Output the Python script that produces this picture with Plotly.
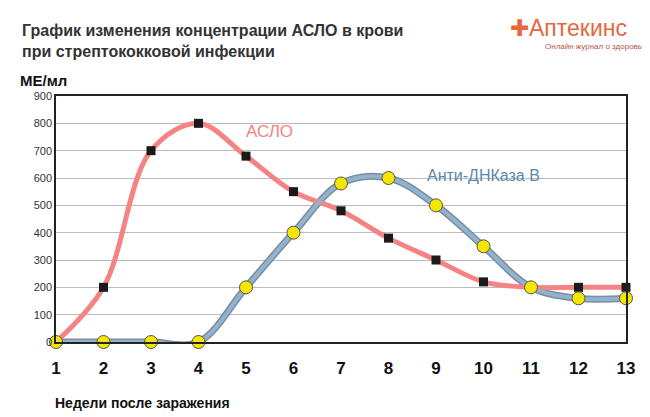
import plotly.graph_objects as go

weeks = list(range(1, 14))
aslo = [0, 200, 700, 800, 680, 550, 480, 380, 300, 220, 200, 200, 200]
dnase = [0, 0, 0, 0, 200, 400, 580, 600, 500, 350, 200, 160, 160]

L, R, T, B = 48, 32, 88, 83

fig = go.Figure()
# grey outline under the blue line
fig.add_trace(go.Scatter(x=weeks, y=dnase, mode='lines', line=dict(color='#7f8c99', width=7, shape='spline', smoothing=1.0),
                         hoverinfo='skip', cliponaxis=False))
fig.add_trace(go.Scatter(x=weeks, y=aslo, mode='lines+markers', name='АСЛО',
                         line=dict(color='#f58383', width=5, shape='spline', smoothing=1.0),
                         marker=dict(symbol='square', size=9, color='#1a1a1a'), cliponaxis=False))
fig.add_trace(go.Scatter(x=weeks, y=dnase, mode='lines+markers', name='Анти-ДНКаза В',
                         line=dict(color='#8fb4d2', width=4, shape='spline', smoothing=1.0),
                         marker=dict(symbol='circle', size=13, color='#f5e600', line=dict(color='#555', width=1)),
                         cliponaxis=False))

fig.update_layout(
    width=650, height=417, showlegend=False,
    paper_bgcolor='white', plot_bgcolor='white',
    margin=dict(l=L, r=R, t=T, b=B, autoexpand=False),
    font=dict(family='Liberation Sans, Arial', color='#222'),
    xaxis=dict(range=[1, 13], tickvals=weeks, ticktext=['<b>%d</b>' % w for w in weeks],
               showgrid=False, zeroline=False,
               showline=True, linecolor='#222', mirror=True, linewidth=1.5,
               tickfont=dict(size=17, color='#111'), ticks='', ticklabelstandoff=10),
    yaxis=dict(range=[0, 900], dtick=100, showgrid=True, gridcolor='#bbbbbb', zeroline=False,
               showline=True, linecolor='#222', mirror=True, linewidth=1.5,
               tickfont=dict(size=11, color='#333'), ticks=''),
    annotations=[
        dict(text='<b>График изменения концентрации АСЛО в крови<br>при стрептококковой инфекции</b>',
             x=12, y=33, showarrow=False, align='left',
             xanchor='left', yanchor='middle', font=dict(size=16, color='#333')),
        dict(text='<b>МЕ/мл</b>', x=10, y=73, xanchor='left', yanchor='middle', showarrow=False,
             font=dict(size=15, color='#111')),
        dict(text='<b>Недели после заражения</b>', x=45, y=395, xanchor='left', yanchor='middle',
             showarrow=False, font=dict(size=14, color='#111')),
        dict(text='✚Аптекинс', x=500, y=20, xanchor='left', yanchor='middle', showarrow=False,
             font=dict(size=23, color='#e8663d', family='Liberation Sans, Arial')),
        dict(text='Онлайн журнал о здоровье', x=535, y=39, xanchor='left', yanchor='middle',
             showarrow=False, font=dict(size=8, color='#c0504d', family='Liberation Sans, Arial')),
        dict(text='АСЛО', x=5.5, y=770, xref='x', yref='y', showarrow=False,
             font=dict(size=17, color='#f58383')),
        dict(text='Анти-ДНКаза В', x=10.0, y=610, xref='x', yref='y', showarrow=False,
             font=dict(size=16, color='#5b87ad')),
    ],
)
# pixel-positioned annotations -> paper coords
pw, ph = 650 - L - R, 417 - T - B
for a in fig.layout.annotations:
    if a.xref != 'x':
        a.xref = 'paper'; a.yref = 'paper'
        a.x = (a.x - L) / pw
        a.y = (417 - B - a.y) / ph
fig.write_html("out.html")
